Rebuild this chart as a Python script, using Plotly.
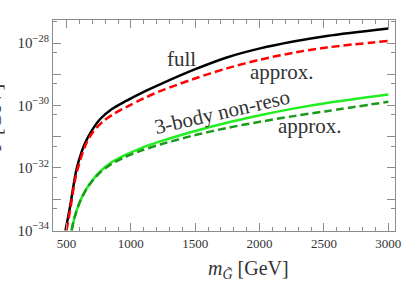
import plotly.graph_objects as go

# full (black)
full_m = [492, 527, 561, 579, 618, 644, 700, 760, 850, 968, 1100, 1227, 1486, 1745, 2004, 2262, 2522, 3000]
full_logw = [-34.0, -33.25, -32.4, -32.02, -31.48, -31.2, -30.78, -30.44, -30.12, -29.84, -29.56, -29.32, -28.86, -28.46, -28.17, -27.95, -27.77, -27.53]
# approx (red dashed)
appr_m = [500, 530, 561, 579, 618, 650, 700, 786, 870, 968, 1100, 1227, 1486, 1745, 2004, 2262, 2522, 3000]
appr_logw = [-34.0, -33.3, -32.5, -32.15, -31.6, -31.25, -30.88, -30.5, -30.26, -30.04, -29.77, -29.54, -29.15, -28.81, -28.53, -28.31, -28.14, -27.93]
# 3-body non-reso (green)
nr_m = [540, 560, 600, 650, 700, 760, 850, 950, 1070, 1227, 1486, 1745, 2004, 2262, 2522, 3000]
nr_logw = [-34.0, -33.62, -33.12, -32.7, -32.4, -32.12, -31.82, -31.6, -31.38, -31.15, -30.83, -30.55, -30.31, -30.1, -29.92, -29.65]
# 3-body approx (dark green dashed)
nra_m = [540, 560, 600, 650, 700, 760, 850, 950, 1070, 1227, 1486, 1745, 2004, 2262, 2522, 3000]
nra_logw = [-34.0, -33.62, -33.12, -32.71, -32.42, -32.15, -31.87, -31.66, -31.46, -31.25, -30.96, -30.72, -30.52, -30.34, -30.18, -29.88]

ytick_vals = [1e-34, 1e-33, 1e-32, 1e-31, 1e-30, 1e-29, 1e-28]
ytick_text = ["10<sup>−34</sup>", "", "10<sup>−32</sup>", "", "10<sup>−30</sup>", "", "10<sup>−28</sup>"]
yminor_vals = [5e-34, 5e-33, 5e-32, 5e-31, 5e-30, 5e-29, 5e-28]
xtick_vals = [500, 1000, 1500, 2000, 2500, 3000]

def pw(a):
    return [10 ** v for v in a]

fig = go.Figure()
fig.add_trace(go.Scatter(x=full_m, y=pw(full_logw), mode="lines", line=dict(color="black", width=2.5, shape="spline", smoothing=0.9)))
fig.add_trace(go.Scatter(x=appr_m, y=pw(appr_logw), mode="lines", line=dict(color="#ff0000", width=2.5, dash="8px,4px", shape="spline", smoothing=0.9)))
fig.add_trace(go.Scatter(x=nr_m, y=pw(nr_logw), mode="lines", line=dict(color="#22ee22", width=2.5, shape="spline", smoothing=0.9)))
fig.add_trace(go.Scatter(x=nra_m, y=pw(nra_logw), mode="lines", line=dict(color="#1a9a1a", width=2.5, dash="8px,4px", shape="spline", smoothing=0.9)))

axcol = "#8c8c8c"
txtcol = "#333333"
font = "Liberation Serif"

fig.update_xaxes(range=[395, 3052], showline=True, linecolor=axcol, linewidth=1, mirror="ticks",
                 ticks="inside", ticklen=8, tickcolor=axcol, tickwidth=1,
                 tickvals=xtick_vals, ticktext=[str(v) for v in xtick_vals],
                 tickfont=dict(family=font, size=13, color=txtcol),
                 minor=dict(dtick=100, tick0=0, ticks="inside", ticklen=4, tickcolor=axcol, tickwidth=1),
                 showgrid=False, zeroline=False, automargin=False)
fig.update_yaxes(type="log", range=[-34.02, -27.26], showline=True, linecolor=axcol, linewidth=1, mirror="ticks",
                 ticks="inside", ticklen=8, tickcolor=axcol, tickwidth=1,
                 tickvals=ytick_vals, ticktext=ytick_text,
                 tickfont=dict(family=font, size=15, color=txtcol),
                 minor=dict(tickmode="array", tickvals=yminor_vals, ticks="inside", ticklen=4, tickcolor=axcol, tickwidth=1),
                 showgrid=False, zeroline=False, automargin=False)

ann_font = dict(family=font, size=21, color=txtcol)
fig.add_annotation(x=1395, y=-28.52, text="full", showarrow=False, font=ann_font)
fig.add_annotation(x=2172, y=-28.93, text="approx.", showarrow=False, font=ann_font)
fig.add_annotation(x=1706, y=-30.2, text="3-body non-reso", showarrow=False, font=ann_font, textangle=-13)
fig.add_annotation(x=2392, y=-30.65, text="approx.", showarrow=False, font=ann_font)
fig.add_annotation(xref="paper", yref="paper", x=(248 - 53) / 342, y=(231 - 269) / 211,
                   xanchor="center", yanchor="middle", showarrow=False,
                   text="<i>m</i><sub><i>G̃</i></sub> [GeV]", font=dict(family=font, size=20, color=txtcol))
fig.add_annotation(xref="paper", yref="paper", x=(7 - 53) / 342, y=0.538, xanchor="right", yanchor="middle",
                   text="Γ [GeV]", showarrow=False, textangle=-90, font=dict(family=font, size=20, color=txtcol))

fig.update_layout(width=420, height=284, margin=dict(l=53, r=25, t=20, b=53, autoexpand=False),
                  paper_bgcolor="white", plot_bgcolor="white", showlegend=False)
fig.write_html("out.html", config={"displayModeBar": False},
               post_script="document.body.style.margin='0';document.body.style.padding='0';")
